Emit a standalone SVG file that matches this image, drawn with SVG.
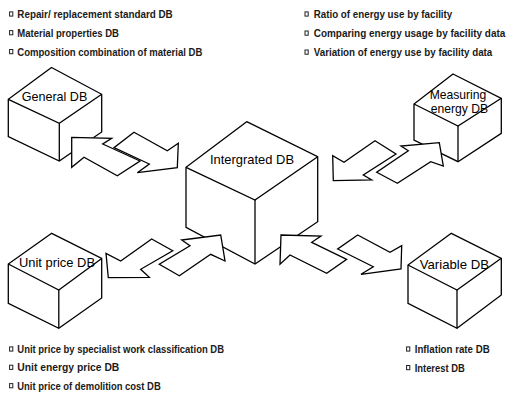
<svg xmlns="http://www.w3.org/2000/svg" width="506" height="395" viewBox="0 0 506 395">
<style>
.bg{fill:#fff}
.face{fill:#fff;stroke:#000;stroke-width:1.3;stroke-linejoin:miter}
.edge{fill:none;stroke:#000;stroke-width:1.3}
.arrow{fill:#fff;stroke:#000;stroke-width:1.3;stroke-linejoin:miter}
.lbl{font-family:"Liberation Sans",Arial,sans-serif;font-size:13px;fill:#000}
.item{font-family:"Liberation Sans",Arial,sans-serif;font-size:10px;font-weight:bold;fill:#1a1a1a}
.bul{fill:#fff;stroke:#222;stroke-width:1}
</style>
<rect class="bg" x="0" y="0" width="506" height="395"/>

<g id="general-db">
  <polygon class="face" points="51.5,67.5 101.7,94.3 101.7,132 59.3,161 8.3,136.7 8.3,99.3"/>
  <polyline class="edge" points="8.3,99.3 59.3,123.3 101.7,94.3"/>
  <line class="edge" x1="59.3" y1="123.3" x2="59.3" y2="161"/>
  <text class="lbl" x="21.7" y="100.5" textLength="65.6" lengthAdjust="spacingAndGlyphs">General DB</text>
  <rect class="bul" x="9.6" y="11.9" width="3.2" height="4.2"/>
  <text class="item" x="17.3" y="18" textLength="155.4" lengthAdjust="spacingAndGlyphs">Repair/ replacement standard DB</text>
  <rect class="bul" x="9.6" y="30.6" width="3.2" height="4.2"/>
  <text class="item" x="17.3" y="36.7" textLength="101.7" lengthAdjust="spacingAndGlyphs">Material properties DB</text>
  <rect class="bul" x="9.6" y="49.5" width="3.2" height="4.2"/>
  <text class="item" x="17.3" y="55.6" textLength="185" lengthAdjust="spacingAndGlyphs">Composition combination of material DB</text>
</g>

<g id="measuring-energy-db">
  <polygon class="face" points="453,74 501.3,98.3 501.3,133.3 458,161.7 414,140 414,104"/>
  <polyline class="edge" points="414,104 458,126 501.3,98.3"/>
  <line class="edge" x1="458" y1="126" x2="458" y2="161.7"/>
  <text class="lbl" x="429.7" y="99.3" textLength="56.6" lengthAdjust="spacingAndGlyphs">Measuring</text>
  <text class="lbl" x="430.7" y="113.3" textLength="57.3" lengthAdjust="spacingAndGlyphs">energy DB</text>
  <rect class="bul" x="305" y="11.9" width="3.2" height="4.2"/>
  <text class="item" x="313.7" y="18" textLength="138.6" lengthAdjust="spacingAndGlyphs">Ratio of energy use by facility</text>
  <rect class="bul" x="305" y="31" width="3.2" height="4.2"/>
  <text class="item" x="313.7" y="37.1" textLength="191.6" lengthAdjust="spacingAndGlyphs">Comparing energy usage by facility data</text>
  <rect class="bul" x="305" y="50" width="3.2" height="4.2"/>
  <text class="item" x="313.7" y="56.1" textLength="178.6" lengthAdjust="spacingAndGlyphs">Variation of energy use by facility data</text>
</g>

<g id="integrated-db">
  <polygon class="face" points="246.7,121.7 317.7,156.7 317.7,221.7 255,264 186,227.3 186,167.3"/>
  <polyline class="edge" points="186,167.3 255,200 317.7,156.7"/>
  <line class="edge" x1="255" y1="200" x2="255" y2="264"/>
  <text class="lbl" x="210" y="164" textLength="84" lengthAdjust="spacingAndGlyphs">Intergrated DB</text>
</g>

<g id="unit-price-db">
  <polygon class="face" points="51.7,233.3 101.7,258.5 101.7,298 58.8,328.3 8.3,303.3 8.3,264"/>
  <polyline class="edge" points="8.3,264 58.8,290 101.7,258.5"/>
  <line class="edge" x1="58.8" y1="290" x2="58.8" y2="328.3"/>
  <text class="lbl" x="19" y="267" textLength="76" lengthAdjust="spacingAndGlyphs">Unit price DB</text>
  <rect class="bul" x="9.6" y="346.9" width="3.2" height="4.2"/>
  <text class="item" x="17.3" y="353" textLength="206.7" lengthAdjust="spacingAndGlyphs">Unit price by specialist work classification DB</text>
  <rect class="bul" x="9.6" y="365.2" width="3.2" height="4.2"/>
  <text class="item" x="17.3" y="371.3" textLength="102" lengthAdjust="spacingAndGlyphs">Unit energy price DB</text>
  <rect class="bul" x="9.6" y="383.6" width="3.2" height="4.2"/>
  <text class="item" x="17.3" y="389.7" textLength="143.4" lengthAdjust="spacingAndGlyphs">Unit price of demolition cost DB</text>
</g>

<g id="variable-db">
  <polygon class="face" points="451.3,233.3 501.3,258.3 501.3,295 457,328.3 408,303.3 408,265"/>
  <polyline class="edge" points="408,265 457,290 501.3,258.3"/>
  <line class="edge" x1="457" y1="290" x2="457" y2="328.3"/>
  <text class="lbl" x="419.7" y="268.5" textLength="69.3" lengthAdjust="spacingAndGlyphs">Variable DB</text>
  <rect class="bul" x="406.6" y="346.9" width="3.2" height="4.2"/>
  <text class="item" x="414.7" y="353" textLength="75" lengthAdjust="spacingAndGlyphs">Inflation rate DB</text>
  <rect class="bul" x="406.6" y="365.5" width="3.2" height="4.2"/>
  <text class="item" x="414.7" y="371.6" textLength="50" lengthAdjust="spacingAndGlyphs">Interest DB</text>
</g>

<g id="connectors">
  <polygon class="arrow" points="71.7,137.3 111.7,138.3 102.7,144 140,161 117.3,175.7 84,157.3 71.7,167.3"/>
  <polygon class="arrow" points="134,132.3 167.3,150.7 178.3,143.3 177.3,167.7 137.3,172.7 149.3,164 114,147.7"/>
  <polygon class="arrow" points="375,140.7 396,154 363.3,175 371.7,180 333.3,180.7 332.7,155.7 344,162.3"/>
  <polygon class="arrow" points="397.3,183.3 376.7,172.3 408.3,150.7 401,146 439.3,142.7 443.3,166 430.7,161.7"/>
  <polygon class="arrow" points="151.7,239 172.7,250.7 140.7,269.3 149.3,277.3 108.3,277.7 106,253.3 120.7,261"/>
  <polygon class="arrow" points="179.3,275.7 159.3,264.3 190,245.7 181.7,240 220.7,235 225,261 210.7,254.3"/>
  <polygon class="arrow" points="281,235 321,236 311.7,242.3 346.7,259.3 326.7,273.3 290,255 280,264.3"/>
  <polygon class="arrow" points="357.7,235 390,252.3 401.7,245.7 401,269 361,274.3 373.3,266.7 337.7,249"/>
</g>
</svg>
